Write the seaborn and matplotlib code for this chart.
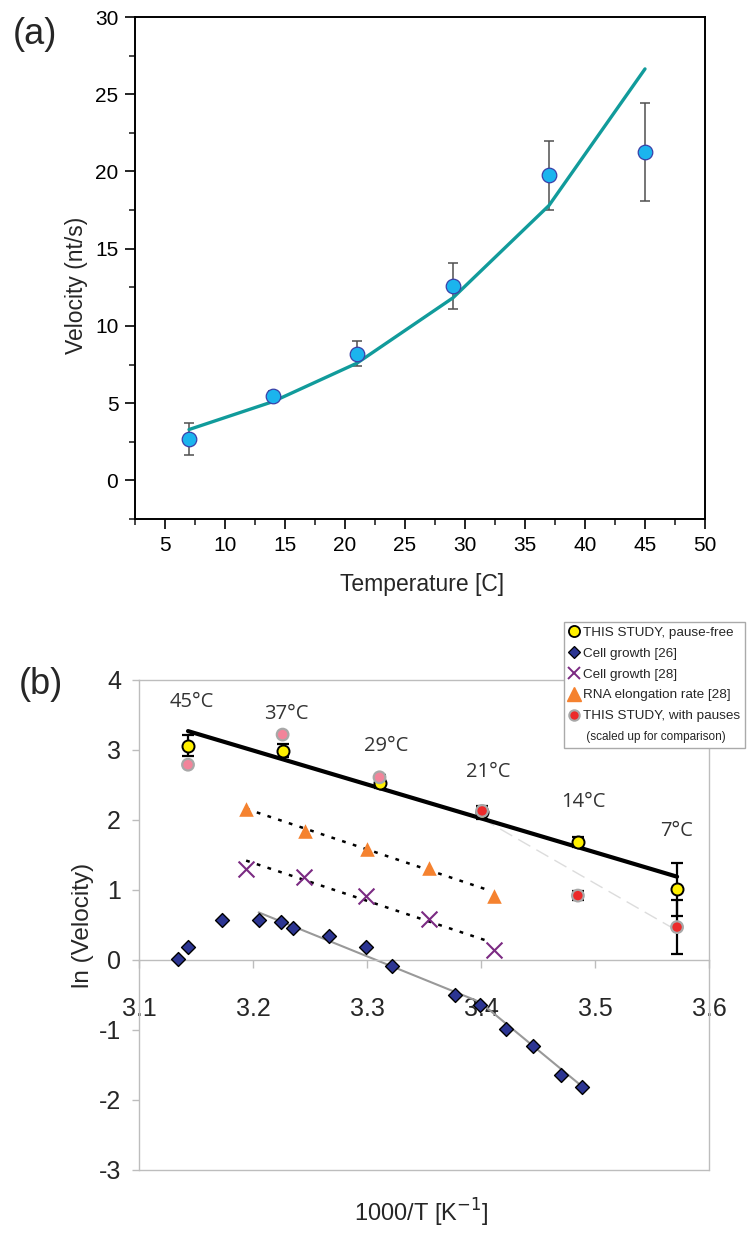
import numpy as np
import pandas as pd
import matplotlib
matplotlib.use("Agg")
import matplotlib.pyplot as plt
from matplotlib.lines import Line2D
from matplotlib.ticker import MultipleLocator
import seaborn as sns

# ---- panel (a): velocity vs temperature ----
temp_c = [7, 14, 21, 29, 37, 45]
velocity = [2.7, 5.45, 8.2, 12.6, 19.75, 21.25]
velocity_err = [1.03, 0.33, 0.8, 1.5, 2.23, 3.17]
velocity_fit = [3.29, 5.1, 7.59, 11.82, 17.8, 26.64]

# ---- panel (b): Arrhenius plot ----
inv_t = [3.143, 3.226, 3.311, 3.401, 3.485, 3.572]
temp_labels = ["45°C", "37°C", "29°C", "21°C", "14°C", "7°C"]
ln_free = [3.06, 2.99, 2.53, 2.11, 1.69, 1.01]
ln_free_err = [0.15, 0.09, 0.07, 0.09, 0.07, 0.38]
ln_pause = [2.79, 3.22, 2.61, 2.13, 0.92, 0.47]
ln_pause_err = [0.0, 0.0, 0.03, 0.06, 0.06, 0.39]
free_fit_x = [3.143, 3.572]
free_fit_y = [3.27, 1.19]
pause_fit_x = [3.401, 3.572]
pause_fit_y = [2.02, 0.42]

rna_x = [3.194, 3.246, 3.300, 3.354, 3.411]
rna_y = [2.15, 1.84, 1.58, 1.32, 0.91]
rna_fit_x = [3.194, 3.408]
rna_fit_y = [2.16, 0.99]

cg28_x = [3.194, 3.245, 3.299, 3.354, 3.411]
cg28_y = [1.30, 1.18, 0.91, 0.58, 0.14]
cg28_fit_x = [3.194, 3.408]
cg28_fit_y = [1.42, 0.26]

cg26_x = [3.134, 3.143, 3.173, 3.205, 3.225, 3.235, 3.267, 3.299, 3.322,
          3.377, 3.399, 3.422, 3.446, 3.470, 3.489]
cg26_y = [0.01, 0.19, 0.57, 0.57, 0.54, 0.46, 0.34, 0.19, -0.09,
          -0.50, -0.64, -0.98, -1.23, -1.64, -1.82]
cg26_fit_x = [3.205, 3.399, 3.489]
cg26_fit_y = [0.68, -0.60, -1.81]

legend_labels = ["THIS STUDY, pause-free", "Cell growth [26]", "Cell growth [28]",
                 "RNA elongation rate [28]", "THIS STUDY, with pauses",
                 " (scaled up for comparison)"]

sns.set_style("white")
plt.rcParams['font.family'] = ['Liberation Sans', 'DejaVu Sans']

fig = plt.figure(figsize=(7.5, 12.33), dpi=100)

# ================= (a) =================
ax = fig.add_axes([0.18, 0.5791, 0.76, 0.4071])
df_a = pd.DataFrame({'T': temp_c, 'v': velocity, 'fit': velocity_fit})
ax.errorbar(df_a['T'], df_a['v'], yerr=velocity_err, fmt='none', ecolor='#505050',
            elinewidth=1.1, capsize=3.6, capthick=1.1, zorder=2)
sns.lineplot(data=df_a, x='T', y='fit', color='#119b9b', linewidth=2.4, ax=ax, zorder=3)
sns.scatterplot(data=df_a, x='T', y='v', color='#1bb4ee', edgecolor='#3a3fa8',
                linewidth=0.9, s=110, ax=ax, zorder=4)
ax.set_xlim(2.5, 50)
ax.set_ylim(-2.5, 30)
ax.xaxis.set_major_locator(MultipleLocator(5))
ax.xaxis.set_minor_locator(MultipleLocator(2.5))
ax.yaxis.set_major_locator(MultipleLocator(5))
ax.yaxis.set_minor_locator(MultipleLocator(2.5))
ax.set_xticks([5, 10, 15, 20, 25, 30, 35, 40, 45, 50])
ax.tick_params(which='major', direction='out', length=7, width=1.2, labelsize=15,
               pad=5, bottom=True, left=True, colors='black')
ax.tick_params(which='minor', direction='out', length=4, width=1.2, bottom=True, left=True)
for s in ax.spines.values():
    s.set_color('black')
    s.set_linewidth(1.4)
ax.set_xlabel('')
ax.set_ylabel('')
fig.text(76 / 750, 1 - 285 / 1233, 'Velocity (nt/s)', rotation=90, ha='center',
         va='center', fontsize=16.5)
fig.text(422 / 750, 1 - 585 / 1233, 'Temperature [C]', ha='center', va='center',
         fontsize=16.5)
fig.text(35 / 750, 1 - 35 / 1233, '(a)', ha='center', va='center', fontsize=26)

# ================= (b) =================
ax = fig.add_axes([0.1853, 0.0511, 0.76, 0.3974])
grey = '#bdbdbd'

sns.lineplot(x=free_fit_x, y=free_fit_y, color='black', linewidth=3.0, ax=ax, zorder=3)
sns.lineplot(x=pause_fit_x, y=pause_fit_y, color='#dcdcdc', linewidth=1.0, ax=ax, zorder=2)
ax.lines[-1].set_linestyle((0, (10, 5)))
sns.lineplot(x=rna_fit_x, y=rna_fit_y, color='black', linewidth=1.8, ax=ax, zorder=2)
ax.lines[-1].set_linestyle((0, (1.5, 3)))
sns.lineplot(x=cg28_fit_x, y=cg28_fit_y, color='black', linewidth=1.8, ax=ax, zorder=2)
ax.lines[-1].set_linestyle((0, (1.5, 3)))
sns.lineplot(x=cg26_fit_x, y=cg26_fit_y, color='#999999', linewidth=1.5, ax=ax, zorder=2)

sns.scatterplot(x=cg26_x, y=cg26_y, marker='D', color='#2c3592', edgecolor='black',
                linewidth=1.0, s=50, ax=ax, zorder=5)
sns.scatterplot(x=cg28_x, y=cg28_y, marker='x', color='#7b2a82', linewidth=1.5,
                s=130, ax=ax, zorder=5)
sns.scatterplot(x=rna_x, y=rna_y, marker='^', color='#f5822f', linewidth=0,
                s=110, ax=ax, zorder=5)

ax.errorbar(inv_t, ln_free, yerr=ln_free_err, fmt='none', ecolor='black',
            elinewidth=1.6, capsize=4.5, capthick=1.6, zorder=6)
ax.errorbar(inv_t, ln_pause, yerr=ln_pause_err, fmt='none', ecolor='black',
            elinewidth=1.6, capsize=4.5, capthick=1.6, zorder=6)
sns.scatterplot(x=inv_t, y=ln_free, color='#fff000', edgecolor='black', linewidth=1.4,
                s=75, ax=ax, zorder=7)
pink = ['#f2849a', '#f2849a', '#f2849a', '#ec2a2a', '#ec2a2a', '#ec2a2a']
sns.scatterplot(x=inv_t, y=ln_pause, hue=list(range(6)), palette=pink, legend=False,
                edgecolor='#a8a8a8', linewidth=1.6, s=70, ax=ax, zorder=8)

label_pos_y = [3.69, 3.51, 3.06, 2.68, 2.25, 1.84]
label_pos_x = [3.146, 3.229, 3.317, 3.406, 3.49, 3.572]
for x, y, lab in zip(label_pos_x, label_pos_y, temp_labels):
    ax.text(x, y, lab, ha='center', va='center', fontsize=14.5, color='#333333',
            family=['Open Sans', 'DejaVu Sans'])

ax.set_xlim(3.1, 3.6)
ax.set_ylim(-3, 4)
ax.set_xticks([3.1, 3.2, 3.3, 3.4, 3.5, 3.6])
ax.set_xticklabels(['3.1', '3.2', '3.3', '3.4', '3.5', '3.6'])
ax.set_yticks([4, 3, 2, 1, 0, -1, -2, -3])
ax.set_yticklabels(['4', '3', '2', '1', '0', '-1', '-2', '-3'])
ax.spines['bottom'].set_position(('data', 0))
for s in ax.spines.values():
    s.set_color(grey)
    s.set_linewidth(1.0)
ax.plot([0, 1], [0, 0], transform=ax.transAxes, color=grey, linewidth=1.0,
        clip_on=False, zorder=1)
ax.tick_params(axis='x', direction='out', length=6, width=1, color=grey,
               labelsize=18, pad=21, bottom=True)
ax.tick_params(axis='y', direction='out', length=5, width=1, color=grey,
               labelsize=18, pad=8, left=True)
for lab in ax.get_xticklabels() + ax.get_yticklabels():
    lab.set_zorder(1)
ax.set_xlabel('')
ax.set_ylabel('')
fig.text(83 / 750, 1 - 925 / 1233, 'ln (Velocity)', rotation=90, ha='center',
         va='center', fontsize=17.5)
fig.text(421 / 750, 1 - 1213 / 1233, '1000/T [K$^{-1}$]', ha='center', va='center',
         fontsize=17)
fig.text(41 / 750, 1 - 685 / 1233, '(b)', ha='center', va='center', fontsize=26)

handles = [
    Line2D([], [], linestyle='none', marker='o', markersize=8, markerfacecolor='#fff000',
           markeredgecolor='black', markeredgewidth=1.3),
    Line2D([], [], linestyle='none', marker='D', markersize=6, markerfacecolor='#2c3592',
           markeredgecolor='black', markeredgewidth=0.9),
    Line2D([], [], linestyle='none', marker='x', markersize=9, color='#7b2a82',
           markeredgewidth=1.4),
    Line2D([], [], linestyle='none', marker='^', markersize=10, color='#f5822f'),
    Line2D([], [], linestyle='none', marker='o', markersize=7.5, markerfacecolor='#ec2a2a',
           markeredgecolor='#a8a8a8', markeredgewidth=1.5),
    Line2D([], [], linestyle='none'),
]
leg = fig.legend(handles, legend_labels, loc='upper right',
                 bbox_to_anchor=(745 / 750, 1 - 622 / 1233), frameon=True,
                 fancybox=False, edgecolor='#aaaaaa', framealpha=1, borderpad=0.35,
                 labelspacing=0.62, handlelength=0.8, handletextpad=0.25,
                 borderaxespad=0, prop={'size': 9.7})
leg.get_frame().set_linewidth(1.0)
leg.get_texts()[5].set_fontsize(8.5)

fig.savefig('out.png', dpi=100)
